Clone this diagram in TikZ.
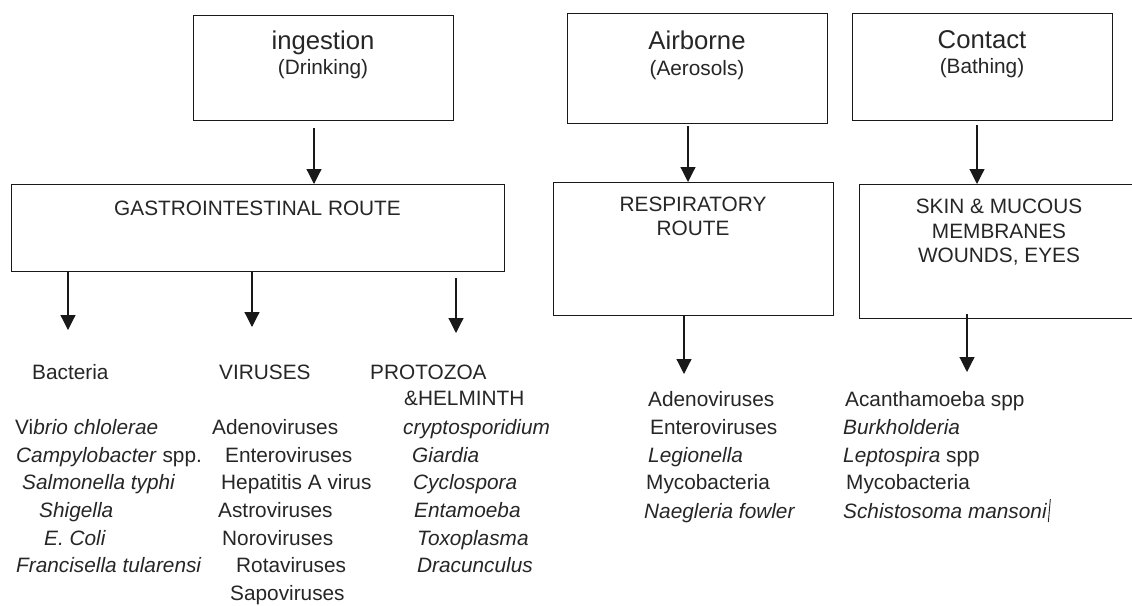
\documentclass[tikz,border=0pt]{standalone}
\usepackage{fontspec}
\setmainfont{Liberation Sans}
\usetikzlibrary{arrows.meta}
\tikzset{
  box/.style={draw=black!90, line width=1.1pt, inner sep=0pt, anchor=north west},
  ttl/.style={anchor=base, inner sep=0pt, text=black!85, font=\fontsize{25.7}{30}\selectfont},
  sub/.style={anchor=base, inner sep=0pt, text=black!85, font=\fontsize{20.8}{24.5}\selectfont},
  lbl/.style={anchor=base west, inner sep=0pt, text=black!85, font=\fontsize{20.8}{24.5}\selectfont},
  arr/.style={draw=black!90, line width=1.2pt, -{Triangle[width=15pt,length=15pt]}}
}
\begin{document}
\begin{tikzpicture}[x=1pt,y=-1pt]
\useasboundingbox (0,0) rectangle (1132,605);
\clip (0,0) rectangle (1132,605);
\fill[white] (0,0) rectangle (1132,605);

% ---- top boxes ----
\node[box, minimum width=260pt, minimum height=105pt] (ing) at (193,15) {};
\node[ttl] (ingT1) at (323,49) {ingestion};
\node[sub] (ingT2) at (323,74) {(Drinking)};

\node[box, minimum width=260pt, minimum height=110pt] (air) at (567,13) {};
\node[ttl] (airT1) at (697,49) {Airborne};
\node[sub] (airT2) at (697,75) {(Aerosols)};

\node[box, minimum width=260pt, minimum height=107pt] (con) at (852,13) {};
\node[ttl] (conT1) at (982,48) {Contact};
\node[sub] (conT2) at (982,73) {(Bathing)};

% ---- route boxes ----
\node[box, minimum width=493pt, minimum height=87pt] (gi) at (11,184) {};
\node[sub] (giT) at (257.5,215) {GASTROINTESTINAL ROUTE};

\node[box, minimum width=280pt, minimum height=133pt] (resp) at (553,182) {};
\node[sub] (respT1) at (693,211) {RESPIRATORY};
\node[sub] (respT2) at (693,235) {ROUTE};

\node[box, minimum width=280pt, minimum height=134pt] (skin) at (859,184) {};
\node[sub] (skinT1) at (999,213) {SKIN \& MUCOUS};
\node[sub] (skinT2) at (999,238) {MEMBRANES};
\node[sub] (skinT3) at (999,262) {WOUNDS, EYES};

% ---- arrows top -> route ----
\coordinate (a1) at (314,128);
\coordinate (a2) at (688,126);
\coordinate (a3) at (977,125);
\draw[arr] (a1) -- (a1 |- gi.north);
\draw[arr] (a2) -- (a2 |- resp.north);
\draw[arr] (a3) -- (a3 |- skin.north);

% ---- arrows route -> groups ----
\coordinate (b1) at (68,330);
\coordinate (b2) at (252,327);
\coordinate (b3s) at (456,278);
\coordinate (b3) at (456,333);
\coordinate (b4) at (684,374);
\coordinate (b5s) at (967,314);
\coordinate (b5) at (967,372);
\draw[arr] (b1 |- gi.south) -- (b1);
\draw[arr] (b2 |- gi.south) -- (b2);
\draw[arr] (b3s) -- (b3);
\draw[arr] (b4 |- resp.south) -- (b4);
\draw[arr] (b5s) -- (b5);

% ---- group headers ----
\node[lbl] (hBac) at (32,379) {Bacteria};
\node[lbl] (hVir) at (219,379) {VIRUSES};
\node[lbl] (hPro1) at (370,379) {PROTOZOA};
\node[lbl] (hPro2) at (404,405) {\&HELMINTH};

% ---- bacteria ----
\node[lbl] (bac1) at (15,434) {Vi\textit{brio chlolerae}};
\node[lbl] (bac2) at (16,462) {\textit{Campylobacter} spp.};
\node[lbl] (bac3) at (22,489) {\textit{Salmonella typhi}};
\node[lbl] (bac4) at (39,517) {\textit{Shigella}};
\node[lbl] (bac5) at (44,545) {\textit{E. Coli}};
\node[lbl] (bac6) at (16,572) {\textit{Francisella tularensi}};

% ---- viruses ----
\node[lbl] (vir1) at (212,434) {Adenoviruses};
\node[lbl] (vir2) at (225,462) {Enteroviruses};
\node[lbl] (vir3) at (221,489) {Hepatitis A virus};
\node[lbl] (vir4) at (218,517) {Astroviruses};
\node[lbl] (vir5) at (222,545) {Noroviruses};
\node[lbl] (vir6) at (236,572) {Rotaviruses};
\node[lbl] (vir7) at (230,600) {Sapoviruses};

% ---- protozoa ----
\node[lbl] (pro1) at (403,434) {\textit{cryptosporidium}};
\node[lbl] (pro2) at (412,462) {\textit{Giardia}};
\node[lbl] (pro3) at (413,489) {\textit{Cyclospora}};
\node[lbl] (pro4) at (414,517) {\textit{Entamoeba}};
\node[lbl] (pro5) at (417,545) {\textit{Toxoplasma}};
\node[lbl] (pro6) at (417,572) {\textit{Dracunculus}};

% ---- respiratory ----
\node[lbl] (res1) at (648,406) {Adenoviruses};
\node[lbl] (res2) at (650,434) {Enteroviruses};
\node[lbl] (res3) at (648,462) {\textit{Legionella}};
\node[lbl] (res4) at (646,489) {Mycobacteria};
\node[lbl] (res5) at (644,518) {\textit{Naegleria fowler}};

% ---- skin ----
\node[lbl] (sk1) at (845,406) {Acanthamoeba spp};
\node[lbl] (sk2) at (843,434) {\textit{Burkholderia}};
\node[lbl] (sk3) at (843,462) {\textit{Leptospira} spp};
\node[lbl] (sk4) at (846,489) {Mycobacteria};
\node[lbl] (sk5) at (843,518) {\textit{Schistosoma mansoni}};
\draw[black!85, line width=0.9pt] ([xshift=1pt,yshift=-4pt]sk5.base east) -- ++(2,-23);
\end{tikzpicture}
\end{document}
